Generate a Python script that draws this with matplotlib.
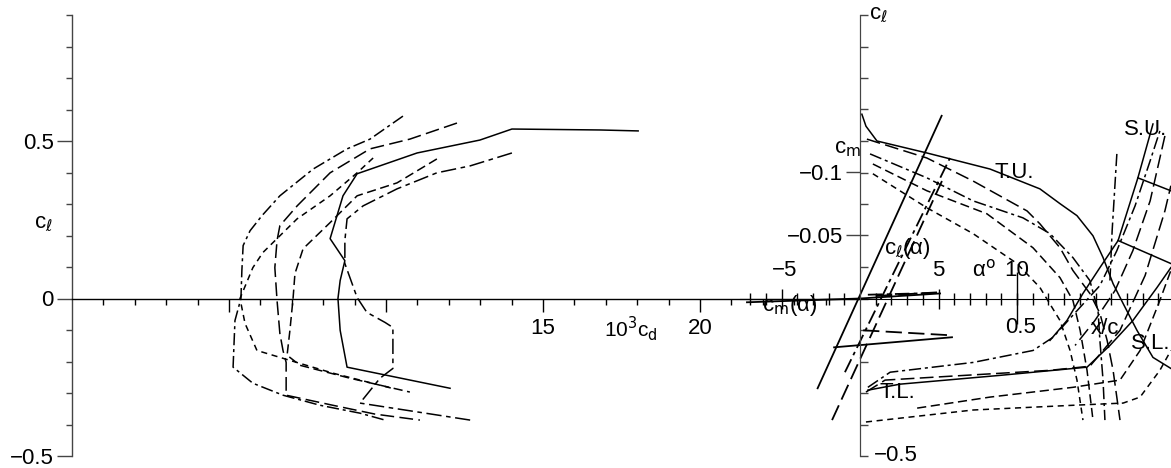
import matplotlib
matplotlib.use("Agg")
import matplotlib.pyplot as plt
from matplotlib.ticker import FixedLocator, NullFormatter, FixedFormatter

plt.rcParams['font.family'] = ['Liberation Sans Narrow', 'Liberation Sans', 'DejaVu Sans']
plt.rcParams['mathtext.fontset'] = 'custom'
plt.rcParams['mathtext.rm'] = 'Liberation Sans Narrow'
plt.rcParams['mathtext.it'] = 'Liberation Sans Narrow'
plt.rcParams['axes.unicode_minus'] = True

# ---------------- Left panel: drag polars (10^3 c_d vs c_l) ----------------
pol_solid_cd = [18.03, 16.82, 14.01, 12.99, 10.99, 9.08, 8.63, 8.22, 8.69, 8.54, 8.47, 8.54, 8.76, 12.04]
pol_solid_cl = [0.532, 0.535, 0.538, 0.503, 0.462, 0.396, 0.326, 0.190, 0.120, 0.057, 0.0, -0.101, -0.218, -0.285]

pol_a_cd = [10.54, 9.49, 8.76, 7.68, 6.62, 6.05, 5.67, 5.45, 5.41, 5.38, 5.19, 5.13, 5.76, 6.72, 7.90, 9.17, 9.97]
pol_a_cl = [0.579, 0.506, 0.475, 0.411, 0.326, 0.263, 0.215, 0.168, 0.089, 0.0, -0.070, -0.218, -0.269, -0.307, -0.339, -0.364, -0.386]

pol_b_cd = [12.26, 10.76, 9.49, 8.22, 7.17, 6.62, 6.53, 6.46, 6.53, 6.62, 6.72, 6.82, 6.82, 8.31, 9.65, 11.08]
pol_b_cl = [0.557, 0.506, 0.475, 0.399, 0.294, 0.231, 0.184, 0.098, -0.006, -0.111, -0.165, -0.203, -0.307, -0.339, -0.367, -0.386]

pol_c_cd = [9.59, 9.08, 8.22, 7.17, 6.08, 5.76, 5.35, 5.51, 5.89, 7.26, 8.31, 10.19]
pol_c_cl = [0.446, 0.399, 0.326, 0.253, 0.146, 0.098, 0.0, -0.079, -0.165, -0.206, -0.237, -0.285]

pol_d_cd = [11.62, 10.35, 9.08, 8.22, 7.36, 7.10, 7.04, 6.94, 6.85, 7.26, 8.85, 10.76]
pol_d_cl = [0.443, 0.367, 0.326, 0.241, 0.158, 0.079, 0.0, -0.101, -0.180, -0.212, -0.253, -0.297]

pol_e_cd = [14.01, 12.68, 11.62, 10.35, 9.27, 8.76, 8.69, 8.69, 9.08, 9.39, 9.97, 10.22, 10.22, 9.81, 9.17, 12.68]
pol_e_cl = [0.462, 0.421, 0.399, 0.348, 0.294, 0.253, 0.184, 0.111, 0.003, -0.044, -0.076, -0.092, -0.222, -0.253, -0.332, -0.386]

# ---------------- Right panel: lift and moment vs alpha ----------------
lift_solid_a = [-2.7, 5.2]
lift_solid_cl = [-0.285, 0.58]
lift_dashdot_a = [-0.96, 5.73]
lift_dashdot_cl = [-0.234, 0.446]
lift_dash_a = [-1.78, 5.22]
lift_dash_cl = [-0.386, 0.373]

cm_solid_a = [-7.2, 0.0, 5.1]
cm_solid_cm = [0.003, 0.0, -0.004]
cm_dash_a = [1.0, 5.1]
cm_dash_cm = [-0.002, -0.005]
cm_dashdot_a = [0.5, 5.1]
cm_dashdot_cm = [-0.003, -0.0045]

aux_solid_a = [-1.65, 5.86]
aux_solid_cl = [-0.155, -0.123]
aux_dash_a = [0.2, 5.86]
aux_dash_cl = [-0.101, -0.117]

# ---------------- Right panel: transition / separation positions (x/c vs c_l) ----------------
tu_solid_x = [0.006, 0.019, 0.054, 0.213, 0.414, 0.573, 0.637, 0.691, 0.742, 0.774, 0.806, 0.838, 0.882, 0.933, 0.990]
tu_solid_cl = [0.585, 0.547, 0.500, 0.462, 0.411, 0.348, 0.301, 0.263, 0.199, 0.130, 0.047, -0.016, -0.101, -0.187, -0.222]
tu_b_x = [0.022, 0.213, 0.360, 0.532, 0.573, 0.637, 0.678, 0.732, 0.764, 0.787, 0.806, 0.828]
tu_b_cl = [0.506, 0.446, 0.373, 0.278, 0.237, 0.161, 0.089, 0.016, -0.047, -0.133, -0.228, -0.386]
tu_a_x = [0.032, 0.213, 0.360, 0.519, 0.605, 0.678, 0.732, 0.758, 0.764, 0.774, 0.780]
tu_a_cl = [0.459, 0.383, 0.310, 0.256, 0.206, 0.130, 0.057, -0.038, -0.133, -0.259, -0.386]
tu_d_x = [0.041, 0.213, 0.404, 0.551, 0.637, 0.678, 0.701, 0.723, 0.742]
tu_d_cl = [0.427, 0.342, 0.269, 0.161, 0.066, -0.006, -0.101, -0.228, -0.386]
tu_c_x = [0.041, 0.213, 0.360, 0.500, 0.573, 0.637, 0.669, 0.691, 0.710]
tu_c_cl = [0.396, 0.288, 0.206, 0.111, 0.035, -0.070, -0.165, -0.259, -0.386]

tl_solid_x = [0.025, 0.127, 0.446, 0.723, 0.796, 0.869, 0.946, 0.990]
tl_solid_cl = [-0.291, -0.272, -0.244, -0.218, -0.149, -0.070, 0.035, 0.098]
tl_a_x = [0.025, 0.096, 0.360, 0.551, 0.615, 0.669, 0.764, 0.818, 0.876, 0.924, 0.955]
tl_a_cl = [-0.282, -0.234, -0.203, -0.165, -0.123, -0.063, 0.041, 0.152, 0.294, 0.437, 0.532]
tl_b_x = [0.019, 0.080, 0.605, 0.732, 0.828, 0.908, 0.971, 0.990]
tl_b_cl = [-0.297, -0.259, -0.228, -0.215, -0.101, 0.073, 0.278, 0.358]
tl_d_x = [0.182, 0.414, 0.678, 0.828, 0.892, 0.955, 0.990]
tl_d_cl = [-0.348, -0.313, -0.282, -0.259, -0.165, -0.006, 0.089]
tl_c_x = [0.019, 0.360, 0.678, 0.838, 0.892, 0.955, 0.990]
tl_c_cl = [-0.392, -0.354, -0.339, -0.332, -0.313, -0.228, -0.165]

su_solid_x = [0.933, 0.885, 0.822, 0.764, 0.710, 0.659, 0.605]
su_solid_cl = [0.554, 0.383, 0.184, 0.098, 0.016, -0.070, -0.133]
su_dash_x = [0.971, 0.924, 0.869, 0.812, 0.748, 0.685]
su_dash_cl = [0.516, 0.310, 0.152, 0.025, -0.070, -0.149]
su_dashdot_x = [0.818, 0.803, 0.796]
su_dashdot_cl = [0.459, 0.215, 0.057]
rung1_x = [0.885, 0.990]
rung1_cl = [0.383, 0.342]
rung2_x = [0.822, 0.990]
rung2_cl = [0.184, 0.111]

# ---------------- styles ----------------
S_SOLID = '-'
S_A = (0, (8, 2.5, 2, 2.5))      # dash-dot
S_B = (0, (9, 3.5))              # long dash
S_C = (0, (4, 3))                # short dash
S_D = (0, (6, 3))                # medium dash
S_E = (0, (10, 3, 3, 3))         # long-short dash
LW = 1.1
K = 'black'
FS = 16

W, H = 1171, 468
fig = plt.figure(figsize=(W / 100, H / 100), dpi=100)

ybot = (H - 456) / H
ytop = (H - 15) / H

# ---- left axes ----
axL = fig.add_axes([72 / W, ybot, 788 / W, ytop - ybot])
axL.patch.set_visible(False)
axL.set_xlim(0, 788 / 31.4)
axL.set_ylim(-0.5, 0.9)
for s in ['top', 'right']:
    axL.spines[s].set_visible(False)
axL.spines['bottom'].set_position(('data', 0))
axL.spines['left'].set_color('#444444')
axL.spines['left'].set_linewidth(1.0)
axL.spines['bottom'].set_linewidth(1.0)
axL.yaxis.set_major_locator(FixedLocator([-0.5, 0, 0.5]))
axL.yaxis.set_major_formatter(FixedFormatter(['\u22120.5', '0', '0.5']))
axL.yaxis.set_minor_locator(FixedLocator([-0.4, -0.3, -0.2, -0.1, 0.1, 0.2, 0.3, 0.4, 0.6, 0.7, 0.8, 0.9]))
axL.tick_params(axis='y', which='major', direction='out', length=11, width=1, pad=2, labelsize=FS, color='#444444')
axL.tick_params(axis='y', which='minor', direction='out', length=4, width=1, color='#444444')
axL.xaxis.set_major_locator(FixedLocator([5, 10, 15, 20]))
axL.xaxis.set_major_formatter(NullFormatter())
axL.xaxis.set_minor_locator(FixedLocator([i for i in range(1, 26) if i % 5]))
axL.tick_params(axis='x', which='major', direction='out', length=9, width=1)
axL.tick_params(axis='x', which='minor', direction='out', length=4.5, width=1)

for xs, ys, st in [(pol_solid_cd, pol_solid_cl, S_SOLID), (pol_a_cd, pol_a_cl, S_A),
                   (pol_b_cd, pol_b_cl, S_B), (pol_c_cd, pol_c_cl, S_C),
                   (pol_d_cd, pol_d_cl, S_D), (pol_e_cd, pol_e_cl, S_E)]:
    axL.plot(xs, ys, color=K, lw=LW, linestyle=st, clip_on=False)

axL.text(15, -0.095, '15', ha='center', va='center', fontsize=FS)
axL.text(20, -0.095, '20', ha='center', va='center', fontsize=FS)
axL.text(17.8, -0.095, '10$^3$c$_d$', ha='center', va='center', fontsize=FS - 1)
axL.text(-0.9, 0.24, 'c$_\\ell$', ha='center', va='center', fontsize=FS)

# ---- right axes (alpha, c_l) ----
a_lo, a_hi = (740 - 860) / 15.7, (W - 860) / 15.7
axR = fig.add_axes([740 / W, ybot, (W - 740) / W, ytop - ybot])
axR.patch.set_visible(False)
axR.set_xlim(a_lo, a_hi)
axR.set_ylim(-0.5, 0.9)
for s in ['top', 'right']:
    axR.spines[s].set_visible(False)
axR.spines['left'].set_position(('data', 0))
axR.spines['bottom'].set_position(('data', 0))
axR.spines['left'].set_color('#444444')
axR.yaxis.set_major_locator(FixedLocator([-0.5 + 0.1 * i for i in range(15)]))
axR.yaxis.set_major_formatter(NullFormatter())
axR.tick_params(axis='y', which='major', direction='in', length=6, width=1, color='#444444')
axR.xaxis.set_major_locator(FixedLocator([-5, 5]))
axR.xaxis.set_major_formatter(NullFormatter())
axR.xaxis.set_minor_locator(FixedLocator([i for i in range(-7, 20) if i not in (-5, 0, 5)]))
axR.tick_params(axis='x', which='major', direction='inout', length=14, width=1)
axR.tick_params(axis='x', which='minor', direction='inout', length=8, width=1)

for xs, ys, st in [(lift_solid_a, lift_solid_cl, S_SOLID), (lift_dashdot_a, lift_dashdot_cl, S_A),
                   (lift_dash_a, lift_dash_cl, S_B), (aux_solid_a, aux_solid_cl, S_SOLID),
                   (aux_dash_a, aux_dash_cl, S_B)]:
    axR.plot(xs, ys, color=K, lw=1.3, linestyle=st, clip_on=False)

# ---- c_m twin (shares alpha) ----
axM = axR.twinx()
axM.patch.set_visible(False)
axM.set_ylim(0.125, -0.225)
for s in ['top', 'right', 'bottom']:
    axM.spines[s].set_visible(False)
axM.spines['left'].set_visible(True)
axM.spines['left'].set_position(('data', 0))
axM.spines['left'].set_color('#444444')
axM.yaxis.set_ticks_position('left')
axM.yaxis.set_label_position('left')
axM.yaxis.set_major_locator(FixedLocator([-0.1, -0.05]))
axM.yaxis.set_major_formatter(FixedFormatter(['\u22120.1', '\u22120.05']))
axM.tick_params(axis='y', direction='out', length=10, width=1, pad=2, labelsize=FS, color='#444444')
for xs, ys, st in [(cm_solid_a, cm_solid_cm, S_SOLID), (cm_dash_a, cm_dash_cm, S_B),
                   (cm_dashdot_a, cm_dashdot_cm, S_A)]:
    axM.plot(xs, ys, color=K, lw=1.3, linestyle=st, clip_on=False)

# ---- x/c twin (shares c_l) ----
axX = axR.twiny()
axX.patch.set_visible(False)
axX.set_xlim((740 - 860) / 314, (W - 860) / 314)
for s in ['top', 'right', 'left', 'bottom']:
    axX.spines[s].set_visible(False)
axX.xaxis.set_ticks_position('bottom')
axX.spines['bottom'].set_position(('data', 0))
axX.xaxis.set_major_locator(FixedLocator([0.5]))
axX.xaxis.set_major_formatter(NullFormatter())
axX.tick_params(axis='x', direction='inout', length=38, width=1)
axX.tick_params(axis='y', left=False, right=False, labelleft=False, labelright=False)

for xs, ys, st in [(tu_solid_x, tu_solid_cl, S_SOLID), (tu_b_x, tu_b_cl, S_B), (tu_a_x, tu_a_cl, S_A),
                   (tu_d_x, tu_d_cl, S_D), (tu_c_x, tu_c_cl, S_C),
                   (tl_solid_x, tl_solid_cl, S_SOLID), (tl_a_x, tl_a_cl, S_A), (tl_b_x, tl_b_cl, S_B),
                   (tl_d_x, tl_d_cl, S_D), (tl_c_x, tl_c_cl, S_C),
                   (su_solid_x, su_solid_cl, S_SOLID), (su_dash_x, su_dash_cl, S_B),
                   (su_dashdot_x, su_dashdot_cl, S_A), (rung1_x, rung1_cl, S_SOLID),
                   (rung2_x, rung2_cl, S_SOLID)]:
    axX.plot(xs, ys, color=K, lw=LW, linestyle=st, clip_on=False)

# ---- right panel labels (alpha / c_l data coordinates) ----
tR = dict(fontsize=FS, ha='center', va='center')
axR.text(1.2, 0.905, 'c$_\\ell$', **tR, clip_on=False)
axR.text(-0.8, 0.475, 'c$_m$', **tR)
axR.text(-4.8, 0.09, '\u22125', **tR)
axR.text(5.0, 0.09, '5', **tR)
axR.text(7.9, 0.09, '\u03b1$^o$', **tR)
axR.text(10.0, 0.09, '10', **tR)
axR.text(3.0, 0.158, 'c$_\\ell$(\u03b1)', **tR)
axR.text(-4.5, -0.022, 'c$_m$(\u03b1)', **tR)
axR.text(10.2, -0.092, '0.5', **tR)
axR.text(15.6, -0.095, 'x/c', **tR)
axR.text(18.5, -0.142, 'S.L.', **tR)
axR.text(18.2, 0.538, 'S.U.', **tR)
axR.text(9.8, 0.40, 'T.U.', **tR)
axR.text(2.4, -0.30, 'T.L.', **tR)
axR.text(2.3, -0.497, '\u22120.5', **tR)

fig.savefig('out.png', dpi=100)
